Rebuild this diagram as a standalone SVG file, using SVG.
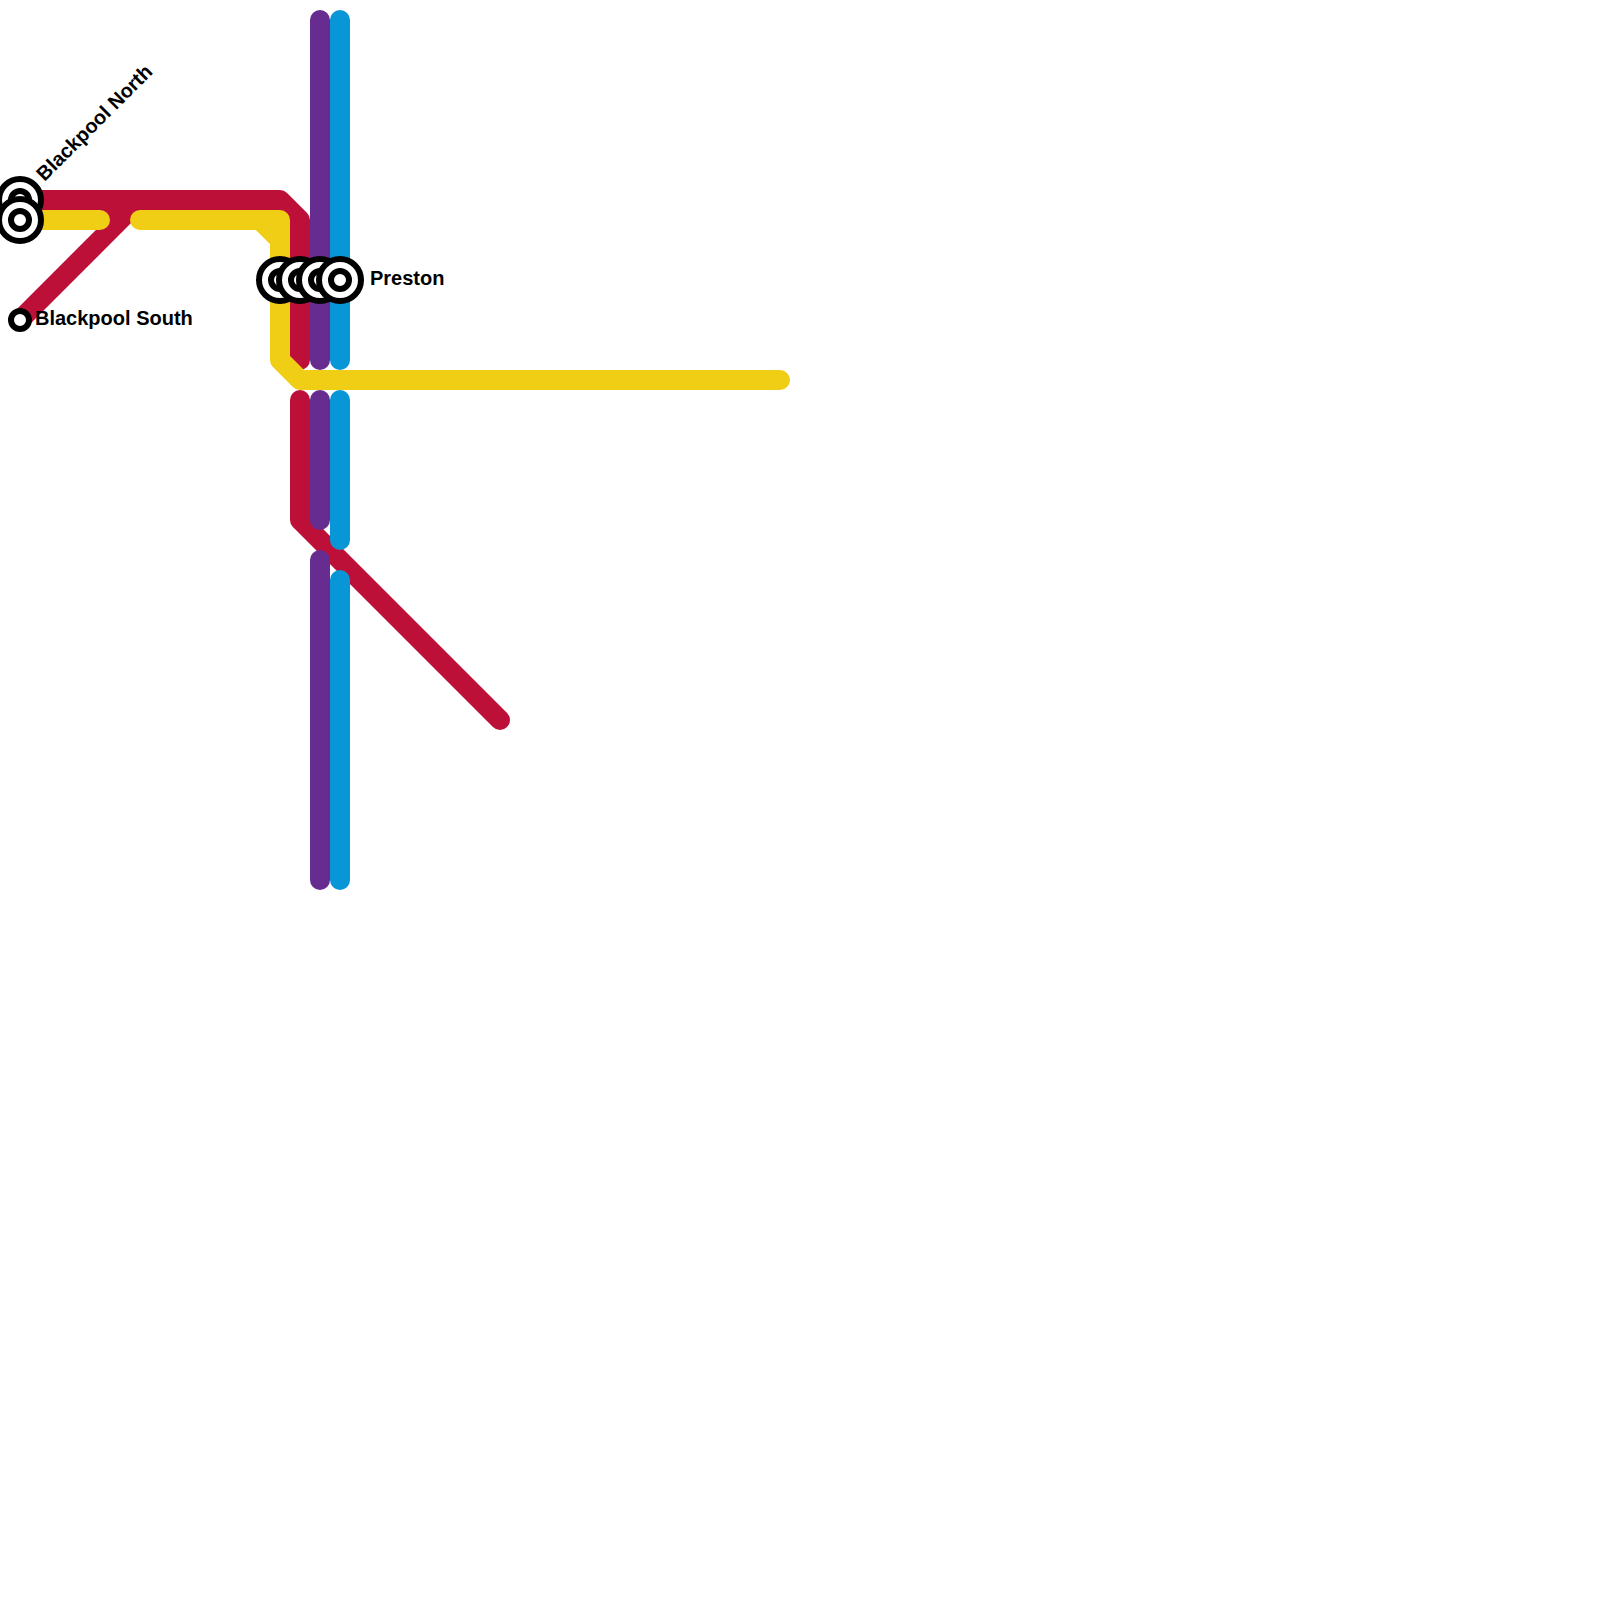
<svg xmlns="http://www.w3.org/2000/svg" width="1600" height="1600" viewBox="0 0 1600 1600">
<style>
.l{fill:none;stroke-width:20;stroke-linecap:round;stroke-linejoin:round}
.red{stroke:#bd1038}.yel{stroke:#f0ce15}.pur{stroke:#662c90}.blu{stroke:#0896d7}
.o{fill:#fff;stroke:#000;stroke-width:6}
text{font-family:"Liberation Sans",Arial,sans-serif;font-weight:700;font-size:20px;fill:#000}
</style>
<defs>
<g id="big"><circle class="o" r="21"/><circle class="o" r="9"/></g>
</defs>
<g id="connectors">
<path class="l red" d="M20 200H280L300 220V360M140 200L20 320M100 200L120 220M300 400V520L500 720"/>
<path class="l yel" d="M20 220H100M140 220H280V360L300 380H780M260 220L280 240"/>
<path class="l pur" d="M320 20V360M320 400V520M320 560V880"/>
<path class="l blu" d="M340 20V360M340 400V540M340 580V880"/>
</g>
<g id="blackpool-north"><use href="#big" x="20" y="200"/><use href="#big" x="20" y="220"/><text transform="translate(44.5 182) rotate(-45)">Blackpool North</text></g>
<g id="blackpool-south"><circle class="o" cx="20" cy="320" r="9"/><text x="35" y="325">Blackpool South</text></g>
<g id="preston"><use href="#big" x="280" y="280"/><use href="#big" x="300" y="280"/><use href="#big" x="320" y="280"/><use href="#big" x="340" y="280"/><text x="370" y="285">Preston</text></g>
</svg>
